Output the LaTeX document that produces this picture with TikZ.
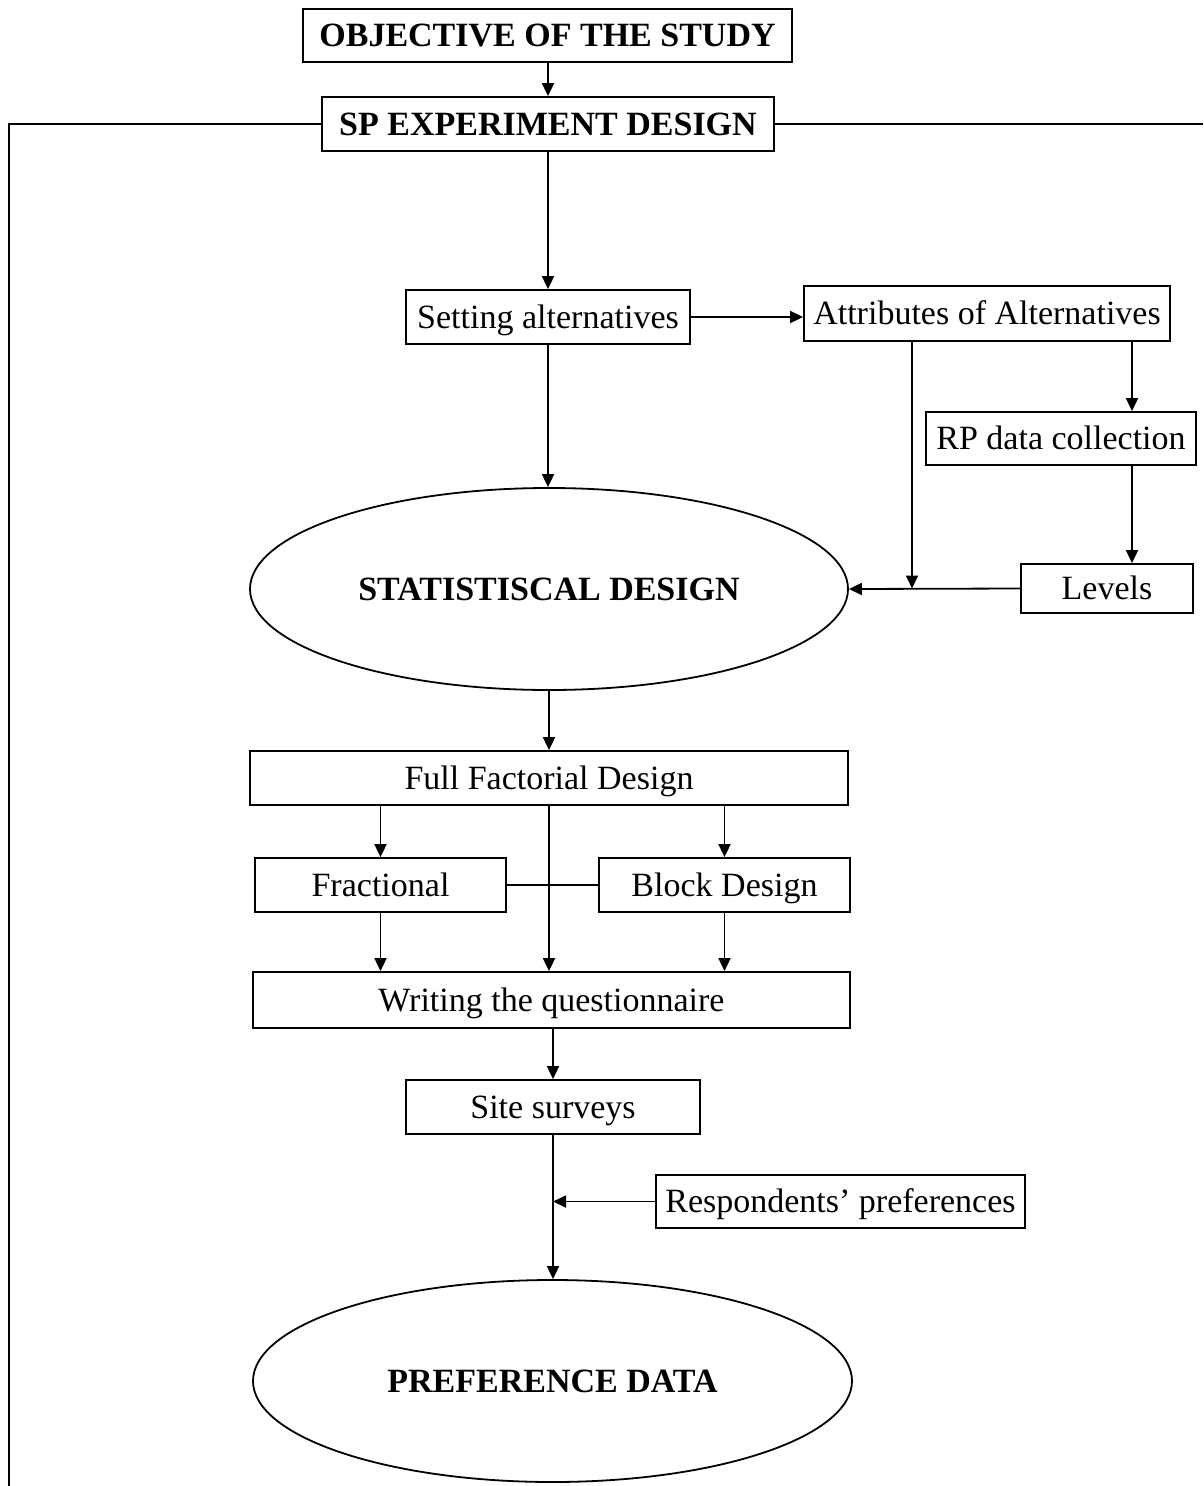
\documentclass[tikz,border=0pt]{standalone}
\usepackage{fontspec}
\setmainfont{Liberation Serif}
\usetikzlibrary{shapes.geometric,arrows.meta,calc}
\begin{document}
\begin{tikzpicture}[x=1pt,y=-1pt,
  every node/.style={font=\fontsize{34}{40}\selectfont, text height=24pt, text depth=2pt},
  box/.style={draw, line width=1.8pt, rectangle, inner sep=0pt},
  oval/.style={draw, line width=1.8pt, ellipse, inner sep=0pt},
  conn/.style={line width=1.8pt},
  arr/.style={line width=1.8pt, -{Triangle[length=13pt,width=12pt]}}]
\useasboundingbox (0,0) rectangle (1203,1486);
% nodes
\node[box, minimum width=489pt, minimum height=53pt, font=\fontsize{34}{40}\selectfont\bfseries] (obj) at (547.5,35.5) {OBJECTIVE OF THE STUDY};
\node[box, minimum width=452pt, minimum height=54pt, font=\fontsize{34}{40}\selectfont\bfseries] (sp) at (548,124) {SP EXPERIMENT DESIGN};
\node[box, minimum width=284pt, minimum height=54pt] (set) at (548,317) {Setting alternatives};
\node[box, minimum width=366pt, minimum height=55pt] (attr) at (987,313.5) {Attributes of Alternatives};
\node[box, minimum width=270pt, minimum height=53pt] (rp) at (1061,438.5) {RP data collection};
\node[box, minimum width=172pt, minimum height=49pt] (lev) at (1107,588.5) {Levels};
\node[oval, minimum width=598pt, minimum height=202pt, font=\fontsize{34}{40}\selectfont\bfseries] (stat) at (549,589) {STATISTISCAL DESIGN};
\node[box, minimum width=598pt, minimum height=54pt] (full) at (549,778) {Full Factorial Design};
\node[box, minimum width=251pt, minimum height=54pt] (frac) at (380.5,885) {Fractional};
\node[box, minimum width=251pt, minimum height=54pt] (block) at (724.5,885) {Block Design};
\node[box, minimum width=597pt, minimum height=56pt] (write) at (551.5,1000) {Writing the questionnaire};
\node[box, minimum width=294pt, minimum height=54pt] (site) at (553,1107) {Site surveys};
\node[box, minimum width=369pt, minimum height=53pt] (resp) at (840.5,1201.5) {Respondents’ preferences};
\node[oval, minimum width=599pt, minimum height=202pt, font=\fontsize{34}{40}\selectfont\bfseries] (pref) at (552.5,1381) {PREFERENCE DATA};
% helper coordinates
\coordinate (lb) at (9,1486);
\coordinate (rb) at (1203,124);
\coordinate (c1) at (1132,0);
\coordinate (c2) at (912,0);
% connectors
\draw[arr] (obj.south -| sp) -- (sp.north);
\draw[conn] (sp.west) -| (lb);
\draw[conn] (sp.east) -- (rb);
\draw[arr] (sp.south) -- (set.north);
\draw[arr] (set.east) -- (set.east -| attr.west);
\draw[arr] (attr.south -| c1) -- (rp.north -| c1);
\draw[arr] (rp.south -| c1) -- (lev.north -| c1);
\draw[arr] (attr.south -| c2) -- (lev.west -| c2);
\draw[arr] (lev.west) -- (stat.east);
\draw[arr] (set.south) -- (set.south |- stat.north);
\draw[arr] (stat.south) -- (full.north);
\draw[arr] (full.south -| frac) -- (frac.north);
\draw[arr] (full.south -| block) -- (block.north);
\draw[arr] (full.south) -- (full.south |- write.north);
\draw[conn] (frac.east) -- (block.west);
\draw[arr] (frac.south) -- (frac.south |- write.north);
\draw[arr] (block.south) -- (block.south |- write.north);
\draw[arr] (write.south -| site) -- (site.north);
\draw[arr] (site.south) -- (site.south |- pref.north);
\draw[arr] (resp.west) -- (resp.west -| site.south);
\end{tikzpicture}
\end{document}
